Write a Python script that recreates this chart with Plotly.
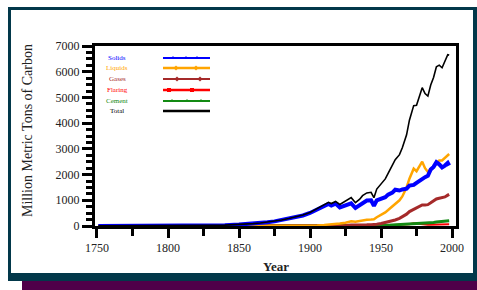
import plotly.graph_objects as go

years = [1751, 1760, 1770, 1780, 1790, 1800, 1810, 1820, 1830, 1840, 1850, 1855, 1860, 1865, 1870,
         1875, 1880, 1885, 1890, 1895, 1900, 1905, 1910, 1913, 1915, 1918, 1921, 1925, 1929, 1932,
         1935, 1937, 1940, 1943, 1945, 1947, 1950, 1953, 1955, 1958, 1960, 1963, 1965, 1968, 1970,
         1973, 1975, 1977, 1979, 1981, 1983, 1985, 1987, 1989, 1991, 1993, 1995, 1997, 1998]

solids = [3, 3, 4, 5, 7, 8, 10, 14, 24, 33, 54, 70, 91, 115, 145, 180, 230, 285, 340, 410, 505, 640, 757,
          855, 800, 870, 720, 820, 880, 700, 800, 900, 990, 1000, 780, 1000, 1070, 1120, 1220, 1300,
          1410, 1380, 1420, 1450, 1570, 1600, 1680, 1750, 1860, 1900, 1950, 2200, 2300, 2480, 2400,
          2280, 2350, 2450, 2350]
liquids = [0, 0, 0, 0, 0, 0, 0, 0, 0, 0, 0, 0, 0, 0, 1, 1, 3, 5, 8, 12, 16, 24, 42, 50, 58, 70, 100, 130,
           180, 170, 200, 230, 240, 250, 260, 340, 423, 530, 620, 760, 850, 1000, 1150, 1500, 1840,
           2230, 2130, 2330, 2500, 2250, 2100, 2200, 2300, 2450, 2550, 2550, 2650, 2750, 2800]
gases = [0, 0, 0, 0, 0, 0, 0, 0, 0, 0, 0, 0, 0, 0, 0, 0, 0, 1, 2, 2, 3, 5, 8, 10, 11, 12, 12, 20, 35, 30,
         34, 38, 44, 50, 55, 70, 97, 130, 150, 200, 235, 300, 360, 460, 560, 650, 700, 760, 820, 820,
         830, 900, 980, 1050, 1080, 1100, 1130, 1200, 1230]
flaring = [0, 0, 0, 0, 0, 0, 0, 0, 0, 0, 0, 0, 0, 0, 0, 0, 0, 0, 0, 0, 0, 0, 0, 0, 0, 0, 0, 0, 0, 0,
           0, 0, 0, 0, 0, 12, 23, 27, 30, 35, 39, 44, 55, 70, 68, 110, 92, 90, 85, 60, 45, 50, 55, 60,
           65, 60, 65, 65, 65]
cement = [0, 0, 0, 0, 0, 0, 0, 0, 0, 0, 0, 0, 0, 0, 0, 0, 0, 0, 0, 1, 2, 3, 4, 5, 4, 4, 5, 6, 8, 7, 9,
          11, 12, 10, 8, 14, 18, 25, 30, 38, 43, 50, 57, 65, 78, 92, 95, 105, 115, 118, 125, 130, 140,
          155, 160, 165, 180, 195, 200]
total = [s + l + g + f + c for s, l, g, f, c in zip(solids, liquids, gases, flaring, cement)]

series_names = ["Solids", "Liquids", "Gases", "Flaring", "Cement", "Total"]
series_values = [solids, liquids, gases, flaring, cement, total]
x_ticks = [1750, 1800, 1850, 1900, 1950, 2000]
y_ticks = [0, 1000, 2000, 3000, 4000, 5000, 6000, 7000]

colors = ["#0000ff", "#ffa500", "#a52a2a", "#ff0000", "#138a13", "#000000"]
widths = [4, 2.5, 3, 2, 3, 1.6]
plot_order = [3, 4, 2, 1, 0, 5]

W, H = 477, 290
L, R, T, B = 95, 21, 46, 64
PW, PH = W - L - R, H - T - B


def px(x):
    return (x - L) / PW


def py(y):
    return (H - B - y) / PH


fig = go.Figure()
for i in plot_order:
    fig.add_trace(go.Scatter(x=years, y=series_values[i], mode="lines", name=series_names[i],
                             line=dict(color=colors[i], width=widths[i]), showlegend=False,
                             hoverinfo="skip"))

# legend drawn inside the plot on an overlay axis measured in pixels
leg_rows = [58, 68, 79, 90, 101, 111]
leg_marker_x = [[173, 186, 197], [176, 196], [177, 200], [169, 192], [172, 187, 201], []]
leg_symbols = ["triangle-up", "diamond", "diamond", "square", "triangle-up", "circle"]
leg_lw = [2, 2.5, 2, 2.5, 2, 2.5]
for i, name in enumerate(series_names):
    fig.add_trace(go.Scatter(x=[163, 210], y=[leg_rows[i], leg_rows[i]], mode="lines",
                             line=dict(color=colors[i], width=leg_lw[i]), xaxis="x2", yaxis="y2",
                             showlegend=False, hoverinfo="skip"))
    if leg_marker_x[i]:
        fig.add_trace(go.Scatter(x=leg_marker_x[i], y=[leg_rows[i]] * len(leg_marker_x[i]),
                                 mode="markers",
                                 marker=dict(color=colors[i], size=4, symbol=leg_symbols[i]),
                                 xaxis="x2", yaxis="y2", showlegend=False, hoverinfo="skip"))
    fig.add_annotation(x=px(117), y=py(leg_rows[i]), xref="paper", yref="paper", text=name,
                       showarrow=False, xanchor="center", yanchor="middle",
                       font=dict(family="Liberation Serif", size=7, color=colors[i]))

frame_col = "#02384a"
shapes = [
    dict(x0=8, x1=477, y0=7, y1=10),
    dict(x0=8, x1=11, y0=7, y1=281),
    dict(x0=473, x1=477, y0=7, y1=281),
    dict(x0=8, x1=477, y0=273, y1=281),
]
for s in shapes:
    fig.add_shape(type="rect", xref="paper", yref="paper", x0=px(s["x0"]), x1=px(s["x1"]),
                  y0=py(s["y1"]), y1=py(s["y0"]), fillcolor=frame_col, line=dict(width=0),
                  layer="above")
fig.add_shape(type="rect", xref="paper", yref="paper", x0=px(22), x1=px(477), y0=py(290),
              y1=py(281), fillcolor="#4f0049", line=dict(width=0), layer="above")

fig.add_annotation(x=px(27), y=py(131), xref="paper", yref="paper", text="Million Metric Tons of Carbon",
                   textangle=-90, showarrow=False, xanchor="center", yanchor="middle",
                   font=dict(family="Liberation Serif", size=14, color="#222"))
fig.add_annotation(x=0.5, y=py(266), xref="paper", yref="paper", text="<b>Year</b>",
                   showarrow=False, xanchor="center", yanchor="middle",
                   font=dict(family="Liberation Serif", size=13, color="#222"))

fig.update_layout(
    width=W, height=H, margin=dict(l=L, r=R, t=T, b=B),
    paper_bgcolor="white", plot_bgcolor="white", showlegend=False,
    xaxis=dict(range=[1748.6, 2002.8], tickvals=x_ticks, ticks="outside", ticklen=9, tickwidth=2.5,
               tickcolor="black", showline=True, linewidth=3, linecolor="black", mirror=True,
               showgrid=False, zeroline=False,
               minor=dict(dtick=25, tick0=1750, ticks="outside", ticklen=7, tickwidth=2.5,
                          tickcolor="black", showgrid=False),
               tickfont=dict(family="Liberation Serif", size=12, color="#222")),
    yaxis=dict(range=[0, 7000], tickvals=y_ticks, ticks="outside", ticklen=10, tickwidth=2.5,
               tickcolor="black", showline=True, linewidth=3, linecolor="black", mirror=True,
               showgrid=False, zeroline=False,
               minor=dict(dtick=250, tick0=0, ticks="outside", ticklen=6, tickwidth=2.5,
                          tickcolor="black", showgrid=False),
               tickfont=dict(family="Liberation Serif", size=12, color="#222")),
    xaxis2=dict(range=[L, W - R], overlaying="x", visible=False, fixedrange=True),
    yaxis2=dict(range=[H - B, T], overlaying="y", visible=False, fixedrange=True),
)

fig.write_html("out.html", config={"displayModeBar": False},
               post_script="document.body.style.margin='0';document.body.style.overflow='hidden';")
